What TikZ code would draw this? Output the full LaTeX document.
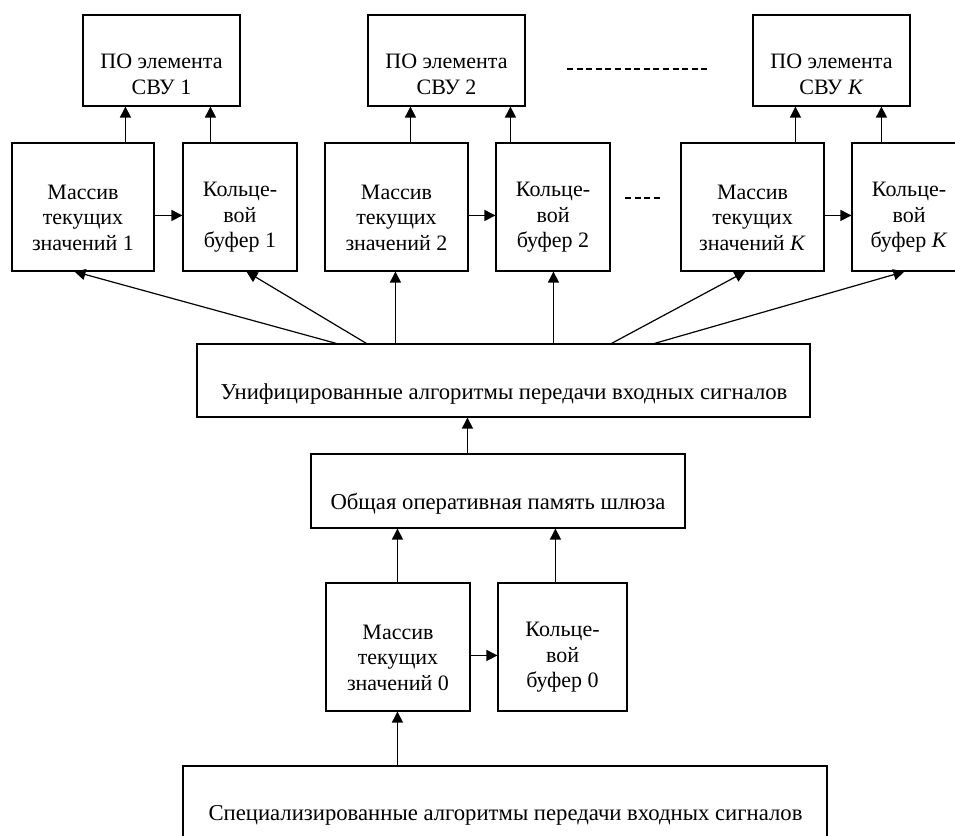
\documentclass[tikz,border=0pt]{standalone}
\usepackage{fontspec}
\setmainfont{Liberation Serif}
\usetikzlibrary{arrows.meta,calc}
\begin{document}
\begin{tikzpicture}[x=1pt,y=-1pt,
  box/.style n args={2}{draw,line width=1.1pt,inner sep=0pt,minimum width=#1,minimum height=#2},
  txt/.style={font=\fontsize{22}{25.5}\selectfont,align=center,inner sep=0pt},
  wide/.style={font=\fontsize{22.7}{26}\selectfont,inner sep=0pt},
  arr/.style={line width=1.2pt,-{Triangle[length=11pt,width=11pt]}},
  dots/.style={line width=1.1pt,dash pattern=on 6pt off 3.6pt}]
\useasboundingbox (0,0) rectangle (955,835);
% top row
\node[box={157}{91}] (top1) at (161.5,60.5) {};
\node[txt] (top1t) at (161.5,74.5) {ПО элемента\\СВУ 1};
\node[box={157}{91}] (top2) at (446.5,60.5) {};
\node[txt] (top2t) at (446.5,74.5) {ПО элемента\\СВУ 2};
\node[box={157}{91}] (topK) at (831.5,60.5) {};
\node[txt] (topKt) at (831.5,74.5) {ПО элемента\\СВУ \textit{K}};
% second row
\node[box={142}{128}] (m1) at (83,207) {};
\node[txt] (m1t) at (83,217.5) {Массив\\текущих\\значений 1};
\node[box={114}{128}] (k1) at (240,207) {};
\node[txt] (k1t) at (240,217.5) {Кольце-\\вой\\буфер 1};
\node[box={143}{128}] (m2) at (396.5,207) {};
\node[txt] (m2t) at (396.5,217.5) {Массив\\текущих\\значений 2};
\node[box={114}{128}] (k2) at (553,207) {};
\node[txt] (k2t) at (553,217.5) {Кольце-\\вой\\буфер 2};
\node[box={143}{128}] (mK) at (752.5,207) {};
\node[txt] (mKt) at (752.5,217.5) {Массив\\текущих\\значений \textit{K}};
\node[box={114}{128}] (kK) at (909,207) {};
\node[txt] (kKt) at (909,217.5) {Кольце-\\вой\\буфер \textit{K}};
% unified
\node[box={613}{73}] (uni) at (503.5,380.5) {};
\node[wide] (unit) at (504,394.5) {Унифицированные алгоритмы передачи входных сигналов};
% common memory
\node[box={374}{74}] (ob) at (498,491) {};
\node[wide] (obt) at (498,504) {Общая оперативная память шлюза};
% row 0
\node[box={144}{128}] (m0) at (398,647) {};
\node[txt] (m0t) at (398,657.5) {Массив\\текущих\\значений 0};
\node[box={129}{128}] (k0) at (562.5,647) {};
\node[txt] (k0t) at (562.5,657.5) {Кольце-\\вой\\буфер 0};
% bottom
\node[box={644}{73}] (sp) at (505,802.5) {};
\node[wide] (spt) at (505.5,815.5) {Специализированные алгоритмы передачи входных сигналов};
% dashed separators
\coordinate (d1a) at (567,69); \coordinate (d1b) at (710,69);
\coordinate (d2a) at (625,198); \coordinate (d2b) at (663,198);
\draw[dots] (d1a) -- (d1b);
\draw[dots] (d2a) -- (d2b);
% arrows up to top boxes
\draw[arr] ($(m1.north west)+(114,0)$) -- ($(top1.south west)+(43,0)$);
\draw[arr] ($(k1.north west)+(28,0)$) -- ($(top1.south west)+(128,0)$);
\draw[arr] ($(m2.north west)+(86,0)$) -- ($(top2.south west)+(43,0)$);
\draw[arr] ($(k2.north west)+(15,0)$) -- ($(top2.south west)+(143,0)$);
\draw[arr] ($(mK.north west)+(115,0)$) -- ($(topK.south west)+(43,0)$);
\draw[arr] ($(kK.north west)+(30,0)$) -- ($(topK.south west)+(129,0)$);
% horizontal arrows
\draw[arr] ($(m1.north east)+(0,73)$) -- ($(k1.north west)+(0,73)$);
\draw[arr] ($(m2.north east)+(0,73)$) -- ($(k2.north west)+(0,73)$);
\draw[arr] ($(mK.north east)+(0,73)$) -- ($(kK.north west)+(0,73)$);
\draw[arr] ($(m0.north east)+(0,73)$) -- ($(k0.north west)+(0,73)$);
% fan from unified
\draw[arr] ($(uni.north west)+(140,0)$) -- ($(m1.south west)+(63,0)$);
\draw[arr] ($(uni.north west)+(170,0)$) -- ($(k1.south west)+(64,0)$);
\draw[arr] ($(uni.north west)+(199,0)$) -- ($(m2.south west)+(71,0)$);
\draw[arr] ($(uni.north west)+(357,0)$) -- ($(k2.south west)+(58,0)$);
\draw[arr] ($(uni.north west)+(415,0)$) -- ($(mK.south west)+(65,0)$);
\draw[arr] ($(uni.north west)+(458,0)$) -- ($(kK.south west)+(53,0)$);
% lower chain
\draw[arr] ($(ob.north west)+(157,0)$) -- ($(uni.south west)+(271,0)$);
\draw[arr] ($(m0.north west)+(72,0)$) -- ($(ob.south west)+(87,0)$);
\draw[arr] ($(k0.north west)+(58,0)$) -- ($(ob.south west)+(245,0)$);
\draw[arr] ($(sp.north west)+(215,0)$) -- ($(m0.south west)+(72,0)$);
\end{tikzpicture}
\end{document}
